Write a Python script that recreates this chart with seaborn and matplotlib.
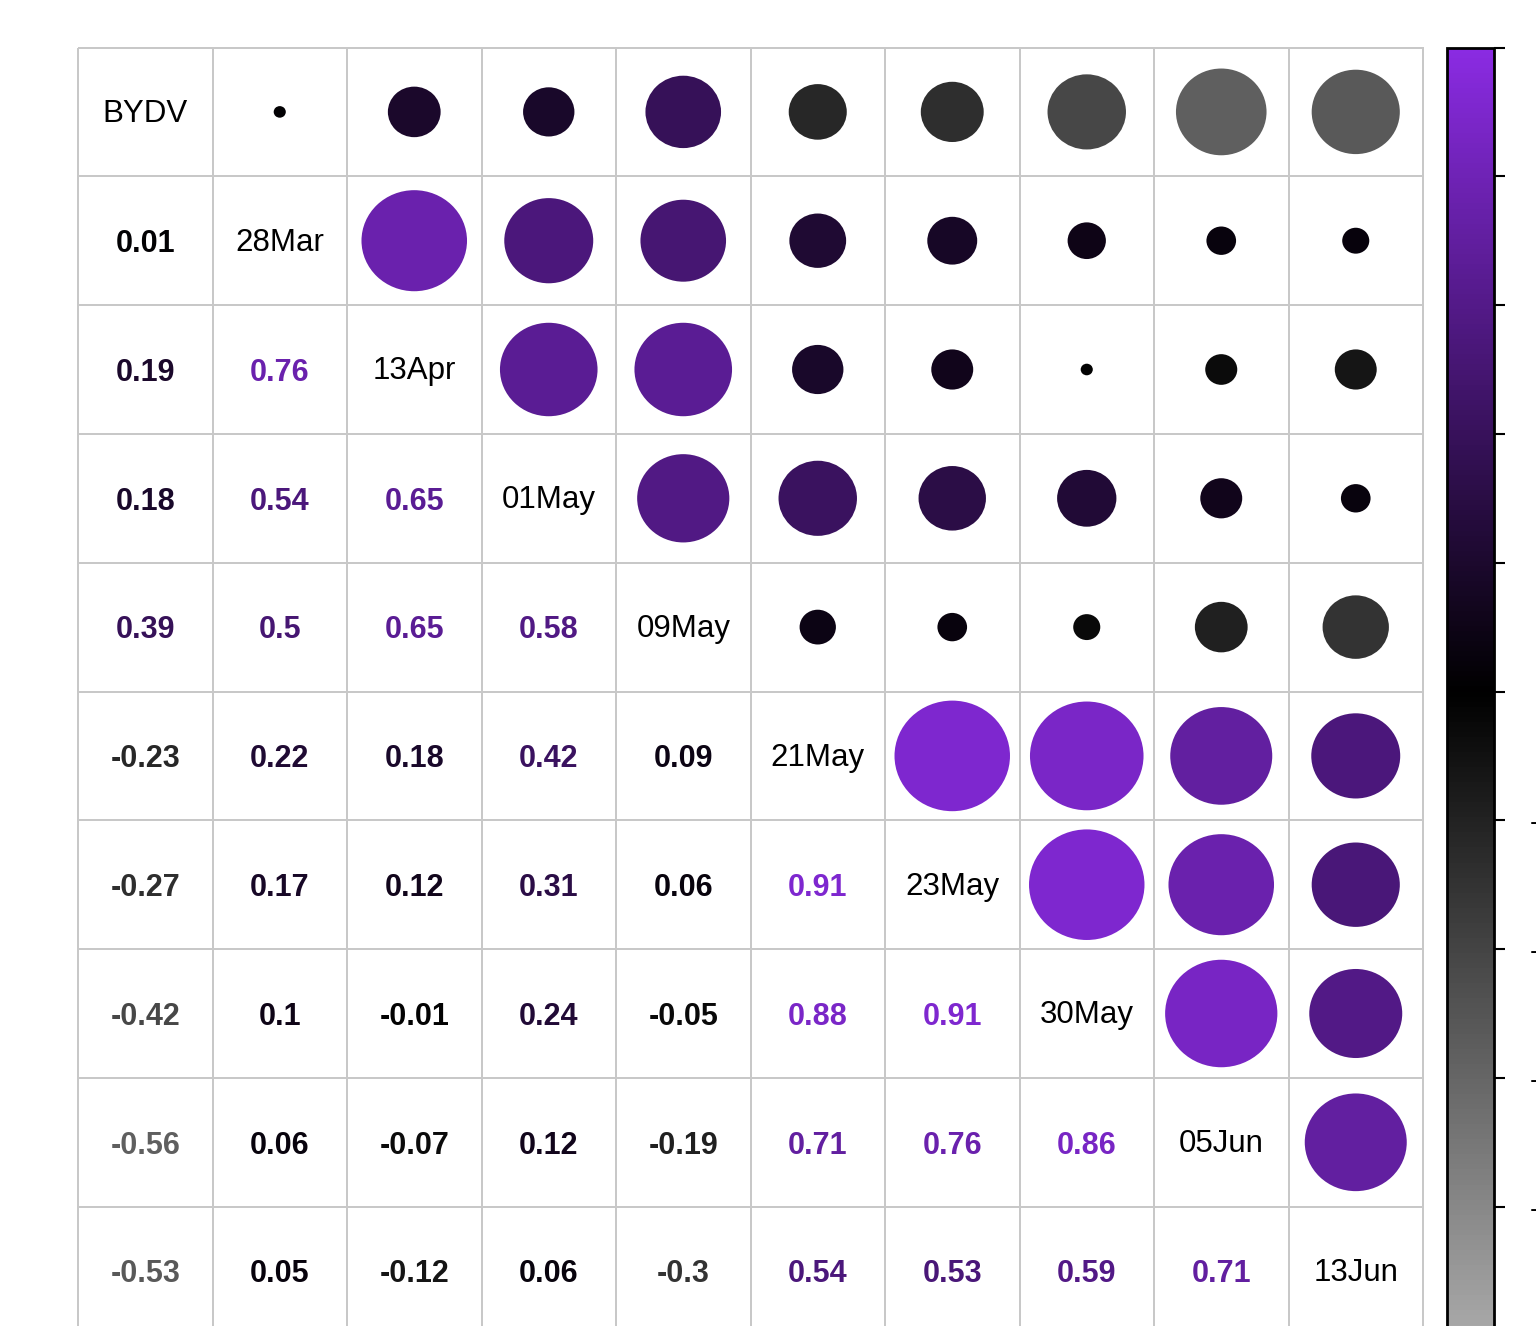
import numpy as np
import pandas as pd
import seaborn as sns
import matplotlib.pyplot as plt
from matplotlib.colors import LinearSegmentedColormap, ListedColormap, Normalize
from matplotlib.cm import ScalarMappable
from matplotlib.patches import Ellipse

plt.rcParams['axes.unicode_minus'] = False

# variable names (diagonal)
labels = ["BYDV", "28Mar", "13Apr", "01May", "09May",
          "21May", "23May", "30May", "05Jun", "13Jun"]

# lower triangle of the correlation matrix, row by row
row_28Mar = [0.01]
row_13Apr = [0.19, 0.76]
row_01May = [0.18, 0.54, 0.65]
row_09May = [0.39, 0.5, 0.65, 0.58]
row_21May = [-0.23, 0.22, 0.18, 0.42, 0.09]
row_23May = [-0.27, 0.17, 0.12, 0.31, 0.06, 0.91]
row_30May = [-0.42, 0.1, -0.01, 0.24, -0.05, 0.88, 0.91]
row_05Jun = [-0.56, 0.06, -0.07, 0.12, -0.19, 0.71, 0.76, 0.86]
row_13Jun = [-0.53, 0.05, -0.12, 0.06, -0.3, 0.54, 0.53, 0.59, 0.71]

lower = [[], row_28Mar, row_13Apr, row_01May, row_09May,
         row_21May, row_23May, row_30May, row_05Jun, row_13Jun]

n = len(labels)
corr = np.eye(n)
for i, row in enumerate(lower):
    for j, v in enumerate(row):
        corr[i, j] = v
        corr[j, i] = v
df = pd.DataFrame(corr, index=labels, columns=labels)

cmap = LinearSegmentedColormap.from_list("gbp", ["#A9A9A9", "black", "#8A2BE2"])
norm = Normalize(-1, 1)

fig = plt.figure(figsize=(15.36, 13.26), dpi=100)
ax = fig.add_axes([78/1536, (1326-1335.5)/1326, 1345/1536, 1288/1326])

# white grid with grey cell borders
sns.heatmap(df * 0, cmap=ListedColormap(["white"]), cbar=False,
            linewidths=1.4, linecolor="#c8c8c8",
            xticklabels=False, yticklabels=False, ax=ax)
ax.collections[0].set_clip_on(False)

txt_font = ["Liberation Sans", "DejaVu Sans"]
for i in range(n):
    for j in range(n):
        v = df.iloc[i, j]
        if i == j:
            ax.text(j + 0.5, i + 0.515, labels[i], ha="center", va="center",
                    fontsize=22.5, family=txt_font, color="black")
        elif i > j:
            ax.text(j + 0.5, i + 0.525, f"{v:g}", ha="center", va="center",
                    fontsize=22, fontweight="bold", family=txt_font,
                    color=cmap(norm(v)))
        else:
            d = 0.9 * np.sqrt(abs(v))
            ax.add_patch(Ellipse((j + 0.5, i + 0.5), d, d,
                                 facecolor=cmap(norm(v)), edgecolor="none"))

for s in ax.spines.values():
    s.set_visible(False)

# colour legend (labels right-aligned, mostly off the right edge)
cax = fig.add_axes([1447/1536, (1326-1335.5)/1326, 47/1536, 1288/1326])
cb = fig.colorbar(ScalarMappable(norm=norm, cmap=cmap), cax=cax)
ticks = np.round(np.arange(-1, 1.01, 0.2), 1)
cb.set_ticks(ticks)
cb.set_ticklabels([f"{t:g}" for t in ticks])
cb.outline.set_linewidth(2)
cax.tick_params(length=8, width=1.5, labelsize=21, pad=54)
for t in cax.get_yticklabels():
    t.set_ha("right")
    t.set_family(txt_font)

fig.savefig("out.png", dpi=100)
